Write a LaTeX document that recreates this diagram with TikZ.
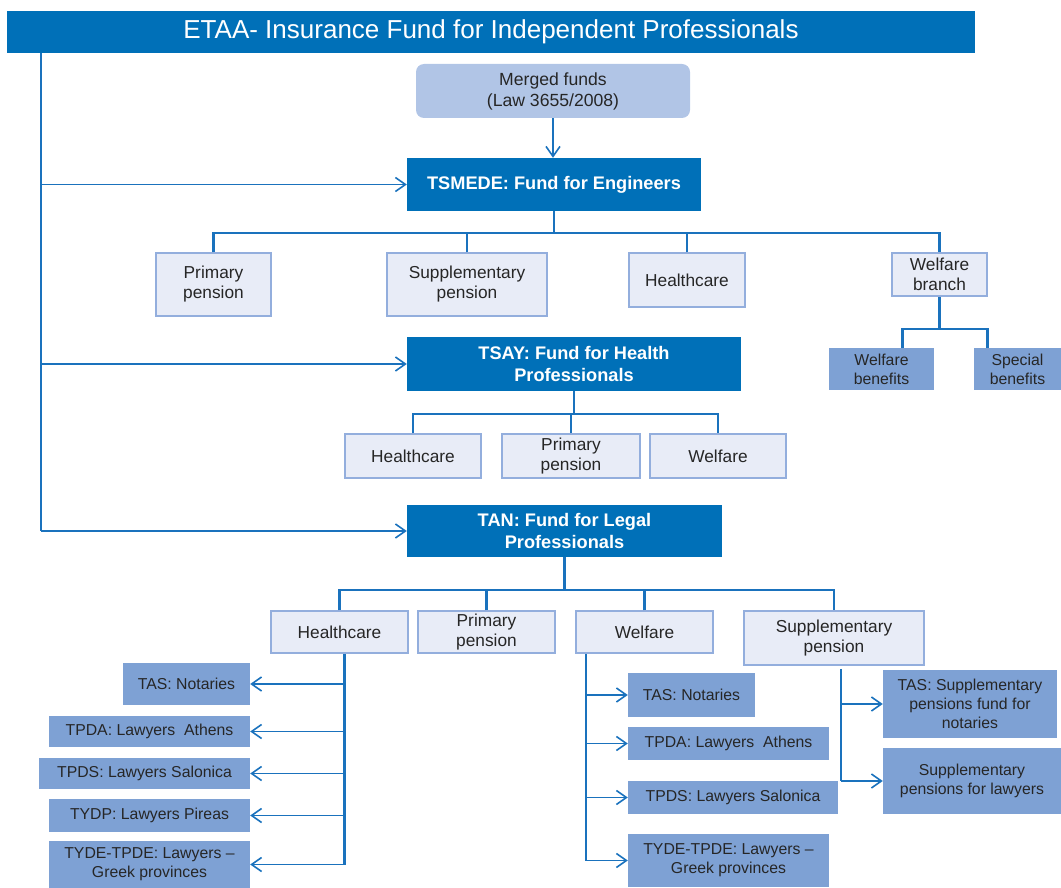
\documentclass[tikz,border=0pt]{standalone}
\usepackage{fontspec}
\setmainfont{Liberation Sans}
\usepackage{xcolor}
\usetikzlibrary{arrows.meta,positioning,calc}

\definecolor{fundblue}{HTML}{0070B8}
\definecolor{linkblue}{HTML}{1A72BD}
\definecolor{subfill}{HTML}{E8ECF7}
\definecolor{subline}{HTML}{93AEDD}
\definecolor{leaffill}{HTML}{7EA1D4}
\definecolor{mergefill}{HTML}{B1C5E6}
\definecolor{inktext}{HTML}{262626}

\tikzset{
  fundbox/.style={fill=fundblue, text=white, font=\bfseries\fontsize{18.2}{22}\selectfont, align=center, inner sep=0pt},
  subbox/.style={fill=subfill, draw=subline, line width=1.5pt, text=inktext, font=\fontsize{17.3}{20}\selectfont, align=center, inner sep=0pt},
  leafbox/.style={fill=leaffill, text=inktext, font=\fontsize{15.8}{19}\selectfont, align=center, inner sep=0pt},
  tree/.style={draw=linkblue, line width=2.2pt},
  feed/.style={draw=linkblue, line width=1.6pt, -{Straight Barb[length=10pt,width=14pt]}},
}

\begin{document}
\begin{tikzpicture}[x=1pt,y=-1pt]
    \useasboundingbox (0,0) rectangle (1061,888);

    % Header
    \node[fill=fundblue, text=white, font=\fontsize{26}{30}\selectfont, inner sep=0pt,
          minimum width=968, minimum height=42] (title) at (491,32)
          {ETAA- Insurance Fund for Independent Professionals};
    \node[fill=mergefill, rounded corners=8pt, text=inktext, font=\fontsize{17.6}{21}\selectfont,
          align=center, inner sep=0pt, minimum width=274, minimum height=54] (merged) at (553,91)
          {Merged funds\\(Law 3655/2008)};

    % Funds
    \node[fundbox, minimum width=294, minimum height=53] (tsmede) at (554,184.5) {TSMEDE: Fund for Engineers};
    \node[fundbox, minimum width=334, minimum height=54] (tsay) at (574,364) {TSAY: Fund for Health\\Professionals};
    \node[fundbox, minimum width=315, minimum height=52] (tan) at (564.5,531) {TAN: Fund for Legal\\Professionals};

    % TSMEDE branches
    \node[subbox, minimum width=115, minimum height=63] (eprim) at (213.5,284.5) {Primary\\pension};
    \node[subbox, minimum width=160, minimum height=63] (esupp) at (467,284.5) {Supplementary\\pension};
    \node[subbox, minimum width=116, minimum height=54] (ehealth) at (687,280) {Healthcare};
    \node[subbox, minimum width=95, minimum height=43] (ewelf) at (939.5,274.5) {Welfare\\branch};
    \node[leafbox, minimum width=105, minimum height=42] (wben) at (881.5,369) {Welfare\\benefits};
    \node[leafbox, minimum width=87, minimum height=42] (sben) at (1017.5,369) {Special\\benefits};

    % TSAY branches
    \node[subbox, minimum width=136, minimum height=44] (yhealth) at (413,456) {Healthcare};
    \node[subbox, minimum width=138, minimum height=44] (yprim) at (571,456) {Primary\\pension};
    \node[subbox, minimum width=136, minimum height=44] (ywelf) at (718,456) {Welfare};

    % TAN branches
    \node[subbox, minimum width=137, minimum height=42] (nhealth) at (339.5,632) {Healthcare};
    \node[subbox, minimum width=137, minimum height=42] (nprim) at (486.5,632) {Primary\\pension};
    \node[subbox, minimum width=137, minimum height=42] (nwelf) at (644.5,632) {Welfare};
    \node[subbox, minimum width=180, minimum height=54] (nsupp) at (834,638) {Supplementary\\pension};

    % TAN healthcare funds
    \node[leafbox, minimum width=127, minimum height=42] (h1) at (186.5,684) {TAS: Notaries};
    \node[leafbox, minimum width=201, minimum height=31] (h2) at (149.5,731.5) {TPDA: Lawyers~\ Athens};
    \node[leafbox, minimum width=211, minimum height=31] (h3) at (144.5,773.5) {TPDS: Lawyers Salonica};
    \node[leafbox, minimum width=201, minimum height=33] (h4) at (149.5,815.5) {TYDP: Lawyers Pireas};
    \node[leafbox, minimum width=201, minimum height=47] (h5) at (149.5,864.5) {TYDE-TPDE: Lawyers --\\Greek provinces};

    % TAN welfare funds
    \node[leafbox, minimum width=127, minimum height=44] (w1) at (691.5,695) {TAS: Notaries};
    \node[leafbox, minimum width=201, minimum height=33] (w2) at (728.5,743.5) {TPDA: Lawyers~\ Athens};
    \node[leafbox, minimum width=210, minimum height=33] (w3) at (733,797.5) {TPDS: Lawyers Salonica};
    \node[leafbox, minimum width=201, minimum height=53] (w4) at (728.5,860.5) {TYDE-TPDE: Lawyers --\\Greek provinces};

    % TAN supplementary funds
    \node[leafbox, minimum width=174, minimum height=68] (s1) at (970,704) {TAS: Supplementary\\pensions fund for\\notaries};
    \node[leafbox, minimum width=178, minimum height=66] (s2) at (972,781) {Supplementary\\pensions for lawyers};

    % Spine from the header
    \coordinate (spine) at ([xshift=34]title.south west);
    \draw[tree] (spine) -- (spine |- tan.west);
    \draw[feed] (spine |- tsmede.west) -- (tsmede.west);
    \draw[feed] (spine |- tsay.west) -- (tsay.west);
    \draw[feed] (spine |- tan.west) -- (tan.west);
    \draw[feed] (merged.south) -- (merged.south |- tsmede.north);

    % TSMEDE tree
    \draw[tree] (tsmede.south) -- ++(0,22) coordinate (ebus);
    \draw[tree] (eprim.north) |- (ebus) -| (ewelf.north);
    \draw[tree] (esupp.north) -- (esupp.north |- ebus);
    \draw[tree] (ehealth.north) -- (ehealth.north |- ebus);
    \draw[tree] (ewelf.south) -- ++(0,32) coordinate (wbus);
    \draw[tree] ([xshift=21]wben.north) |- (wbus) -| ([xshift=-30]sben.north);

    % TSAY tree
    \draw[tree] (tsay.south) -- ++(0,23) coordinate (ybus);
    \draw[tree] (yhealth.north) |- (ybus) -| (ywelf.north);
    \draw[tree] (yprim.north) -- (yprim.north |- ybus);

    % TAN tree
    \draw[tree] (tan.south) -- ++(0,33) coordinate (nbus);
    \draw[tree] (nhealth.north) |- (nbus) -| (nsupp.north);
    \draw[tree] (nprim.north) -- (nprim.north |- nbus);
    \draw[tree] (nwelf.north) -- (nwelf.north |- nbus);

    % Trunks to the funds
    \coordinate (htrunk) at ([xshift=5]nhealth.south);
    \draw[tree] (htrunk) -- (htrunk |- h5.east);
    \foreach \leaf in {h1,h2,h3,h4,h5}
        \draw[feed] (htrunk |- \leaf.east) -- (\leaf.east);

    \coordinate (wtrunk) at ([xshift=11]nwelf.south west);
    \draw[tree] (wtrunk) -- (wtrunk |- w4.west);
    \foreach \leaf in {w1,w2,w3,w4}
        \draw[feed] (wtrunk |- \leaf.west) -- (\leaf.west);

    \coordinate (strunk) at ([xshift=7,yshift=-3]nsupp.south);
    \draw[tree] (strunk) -- (strunk |- s2.west);
    \foreach \leaf in {s1,s2}
        \draw[feed] (strunk |- \leaf.west) -- (\leaf.west);
\end{tikzpicture}
\end{document}
